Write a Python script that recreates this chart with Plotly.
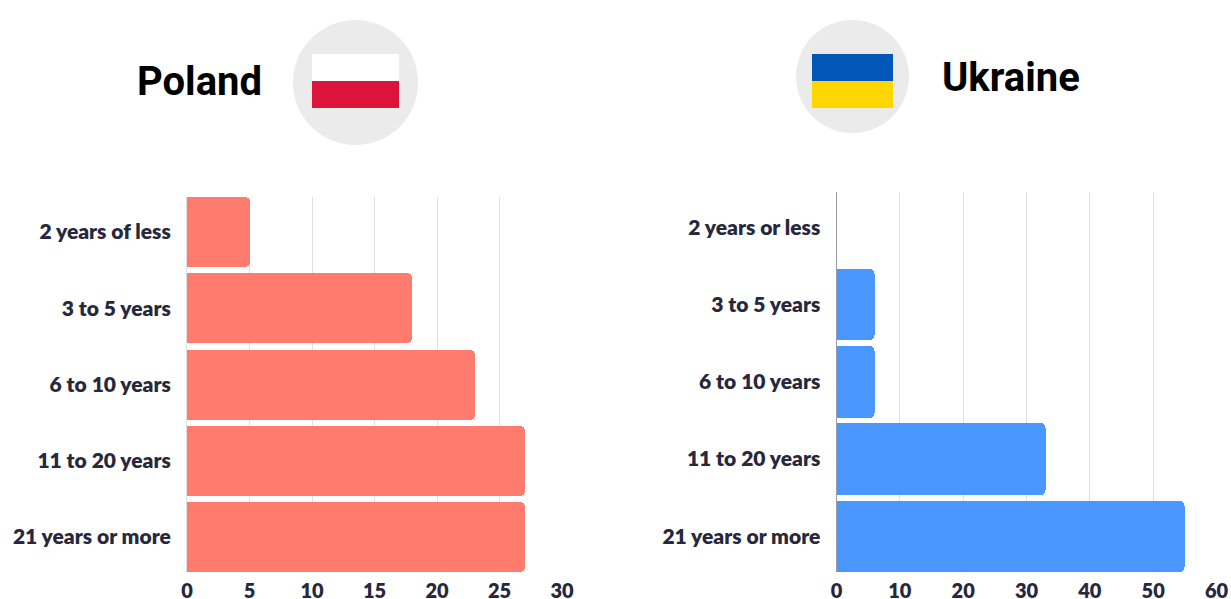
import plotly.graph_objects as go

W, H = 1231, 599
poland_cats = ["2 years of less", "3 to 5 years", "6 to 10 years", "11 to 20 years", "21 years or more"]
poland_vals = [5, 18, 23, 27, 27]
ukraine_cats = ["2 years or less", "3 to 5 years", "6 to 10 years", "11 to 20 years", "21 years or more"]
ukraine_vals = [0, 6, 6, 33, 55]
poland_ticks = [0, 5, 10, 15, 20, 25, 30]
ukraine_ticks = [0, 10, 20, 30, 40, 50, 60]

LABEL_FONT = dict(family="Lato", size=21, color="#28283c", weight=800)
TICK_FONT = dict(family="Lato", size=20, color="#28283c", weight=800)
GRID = "#e0e0e0"


def fx(p):
    return p / W


def fy(p):
    return 1 - p / H


fig = go.Figure()
fig.add_bar(y=poland_cats, x=poland_vals, orientation="h", xaxis="x", yaxis="y",
            width=0.918, marker=dict(color="#ff7b6e", cornerradius=5, line_width=0))
fig.add_bar(y=ukraine_cats, x=ukraine_vals, orientation="h", xaxis="x2", yaxis="y2",
            width=0.925, marker=dict(color="#4a98ff", cornerradius=5, line_width=0))


def xax(domain, rng, ticks, anchor):
    return dict(domain=domain, range=rng, tickvals=ticks, anchor=anchor, showgrid=True,
                gridcolor=GRID, gridwidth=1, zeroline=False, showline=False,
                ticks="outside", ticklen=1, tickcolor="rgba(0,0,0,0)",
                tickfont=TICK_FONT, fixedrange=True, automargin=False)


def yax(domain, rng, anchor, linecolor):
    return dict(domain=domain, range=rng, anchor=anchor, type="category", showgrid=False,
                zeroline=False, showline=True, linecolor=linecolor, linewidth=1,
                ticks="outside", ticklen=11, tickcolor="rgba(0,0,0,0)",
                tickfont=LABEL_FONT, fixedrange=True, automargin=False)


shapes = []


def rect(x0, y0, x1, y1, color, kind="rect"):
    shapes.append(dict(type=kind, xref="paper", yref="paper", x0=fx(x0), x1=fx(x1),
                       y0=fy(y1), y1=fy(y0), fillcolor=color, line_width=0, layer="above"))


rect(293, 20, 418, 145, "#ebebeb", "circle")
rect(312, 54, 399, 81, "#ffffff")
rect(312, 81, 399, 108, "#dc143c")
rect(796, 20, 909, 133, "#ebebeb", "circle")
rect(812, 54, 893, 81, "#0057b7")
rect(812, 81, 893, 108, "#ffd700")

annotations = [
    dict(text="<b>Poland</b>", x=fx(199), y=fy(81), xref="paper", yref="paper", showarrow=False,
         xanchor="center", yanchor="middle", font=dict(family="Roboto", size=40, color="#000000")),
    dict(text="<b>Ukraine</b>", x=fx(1011), y=fy(77), xref="paper", yref="paper", showarrow=False,
         xanchor="center", yanchor="middle", font=dict(family="Roboto", size=40, color="#000000")),
]

fig.update_layout(
    width=W, height=H, margin=dict(l=0, r=0, t=0, b=0, pad=0),
    paper_bgcolor="#ffffff", plot_bgcolor="#ffffff", showlegend=False,
    bargap=0,
    xaxis=xax([fx(187), fx(562)], [0, 30], poland_ticks, "y"),
    yaxis=yax([fy(572), fy(197)], [4.459, -0.459], "x", GRID),
    xaxis2=xax([fx(836.5), fx(1216.5)], [0, 60], ukraine_ticks, "y2"),
    yaxis2=yax([fy(572), fy(192)], [4.4625, -0.457], "x2", "#9a9aa8"),
    shapes=shapes, annotations=annotations,
)
fig.write_html("out.html", default_width="1231px", default_height="599px",
               config=dict(displayModeBar=False),
               post_script="document.body.style.margin='0';document.documentElement.style.overflow='hidden';")
